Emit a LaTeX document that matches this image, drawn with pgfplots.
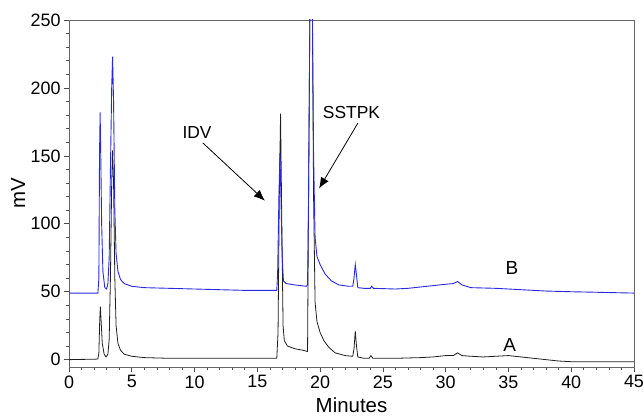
\documentclass[border=0pt]{standalone}
\usepackage{pgfplots}
\pgfplotsset{compat=1.18}
\usepackage{fontspec}
\setmainfont{Liberation Sans}
\usetikzlibrary{arrows.meta}
\definecolor{traceB}{RGB}{40,40,225}
\definecolor{traceA}{RGB}{30,30,30}
\begin{document}
\begin{tikzpicture}
\begin{axis}[name=ax, scale only axis, width=565bp, height=347bp,
  xmin=0, xmax=45, ymin=-5.4, ymax=250,
  xtick={0,5,...,45}, ytick={0,50,...,250},
  minor x tick num=4, minor y tick num=4,
  tick align=outside, xtick pos=left, ytick pos=left,
  major tick length=5bp, minor tick length=3bp,
  axis line style={black!60, line width=0.8pt},
  tick style={black!70, line width=0.6pt},
  ticklabel style={font=\fontsize{18}{21}\selectfont},
  /pgf/number format/assume math mode=true,
  xlabel={Minutes}, ylabel={mV},
  label style={font=\fontsize{20.5}{24}\selectfont},
  xlabel style={at={(axis description cs:0.5,-0.11)}, anchor=center},
  ylabel style={at={(axis description cs:-0.09,0.5)}, anchor=center},
  clip=true]
\addplot[traceA, line width=0.8pt] coordinates {
(0,0) (1,0.2) (2,0.3) (2.3,0.5) (2.38,5) (2.45,30) (2.5,39) (2.55,30) (2.65,12) (2.8,4) (2.95,2) (3.1,4) (3.2,15) (3.3,60) (3.4,130) (3.47,154) (3.55,130) (3.65,60) (3.75,25) (3.9,12) (4.1,7) (4.4,4) (5,2.5) (6,1.5) (8,1) (10,1) (12,1) (14,1) (16,1) (16.55,1) (16.65,20) (16.75,120) (16.85,181) (16.95,100) (17.05,25) (17.15,14) (17.4,10) (18,8) (18.6,7) (19.0,6) (19.08,120) (19.18,250) (19.28,300) (19.38,260) (19.48,120) (19.6,42) (19.75,28) (20,20) (20.3,14) (20.7,9) (21.2,5) (22,3) (22.6,2.5) (22.7,8) (22.8,21) (22.9,10) (23.0,2) (23.5,1) (23.9,1) (24.05,3) (24.2,1) (26,1) (28,1.5) (29,2) (30,3) (30.6,3) (30.95,5) (31.3,3) (32,2.5) (33,2) (34,2.5) (35,3) (36,2) (37,1) (38,0) (39,-1) (40,-1.5) (45,-1.5)
};
\addplot[traceB, line width=0.9pt] coordinates {
(0,49) (2.3,49) (2.38,60) (2.43,150) (2.48,182) (2.53,150) (2.6,100) (2.7,65) (2.85,53) (3.0,52) (3.1,56) (3.2,75) (3.3,140) (3.4,200) (3.47,223) (3.55,190) (3.65,110) (3.75,78) (3.9,65) (4.1,59) (4.4,56) (5,54) (6,53) (8,52.5) (10,52) (12,51.5) (14,51) (16,51) (16.55,51) (16.62,65) (16.72,120) (16.8,152) (16.88,120) (16.98,75) (17.08,58) (17.3,56) (18,55) (18.9,54) (19.0,55) (19.08,120) (19.18,250) (19.28,300) (19.38,260) (19.48,150) (19.6,90) (19.75,76) (20,70) (20.4,63) (20.9,58) (21.5,55) (22.3,54) (22.6,54) (22.7,60) (22.8,70) (22.9,62) (23.0,53) (23.5,52.5) (24,52.5) (24.1,54) (24.25,52.5) (26,52) (27,52.5) (28,53.5) (29,54.5) (30,55.5) (30.6,56) (30.95,57.5) (31.3,55) (32,53) (34,52.5) (35,52) (36,51.5) (38,50.5) (40,50) (41,49.8) (45,49)
};
\draw[black, line width=0.8pt, -{Latex[length=11bp,width=9bp]}] (axis cs:10.65,159.6) -- (axis cs:15.6,117);
\draw[black, line width=0.8pt, -{Latex[length=11bp,width=9bp]}] (axis cs:23.0,174) -- (axis cs:19.92,126);
\node[font=\fontsize{17.5}{21}\selectfont] at (axis cs:10.2,167) {IDV};
\node[font=\fontsize{17.5}{21}\selectfont] at (axis cs:22.5,181.6) {SSTPK};
\node[font=\fontsize{19}{22}\selectfont] at (axis cs:35.27,67.6) {B};
\node[font=\fontsize{19}{22}\selectfont] at (axis cs:35.1,11) {A};
\end{axis}
\pgfresetboundingbox
\path ([shift={(-69bp,-49bp)}]ax.south west) rectangle ([shift={(9bp,20bp)}]ax.north east);
\end{tikzpicture}
\end{document}
